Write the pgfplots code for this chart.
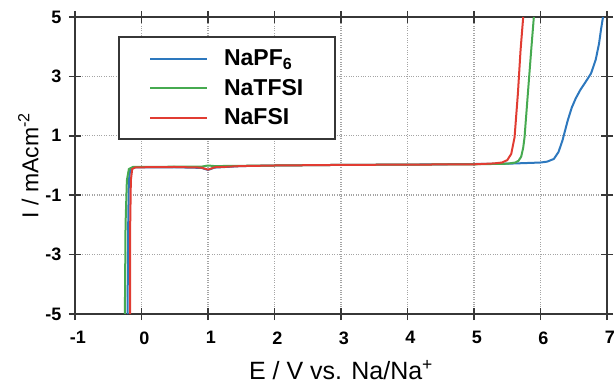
\documentclass[border=0pt]{standalone}
\usepackage{fontspec}
\setmainfont{Liberation Sans}
\usepackage{pgfplots}
\pgfplotsset{compat=1.18}
\definecolor{cblue}{RGB}{45,120,190}
\definecolor{cgreen}{RGB}{70,170,80}
\definecolor{cred}{RGB}{225,60,50}
\definecolor{axisc}{RGB}{55,55,55}
\definecolor{gridc}{RGB}{165,165,165}
\begin{document}
\begin{tikzpicture}
\begin{axis}[
  scale only axis,
  width=532pt, height=297pt,
  xmin=-1, xmax=7, ymin=-5, ymax=5,
  xtick={-1,0,...,7}, ytick={-5,-3,-1,1,3,5},
  axis line style={line width=2pt, color=axisc},
  tick align=center,
  major tick length=12pt,
  tick style={line width=1.5pt, color=axisc},
  xmajorgrids, ymajorgrids,
  major grid style={dotted, line width=1.4pt, color=gridc},
  /pgf/number format/assume math mode=true,
  ticklabel style={font=\fontsize{18}{20}\selectfont\bfseries},
  xticklabel style={yshift=-8pt, xshift=3pt},
  yticklabel style={xshift=-4pt},
  xlabel={E / V vs. Na/Na\textsuperscript{+}},
  ylabel={I / mAcm\textsuperscript{-2}},
  label style={font=\fontsize{23}{26}\selectfont},
  xlabel style={yshift=-9pt, font=\fontsize{25}{28}\selectfont},
  ylabel style={yshift=0pt},
  legend style={at={(0.081,0.936)}, anchor=north west, draw=axisc, line width=2pt,
    font=\fontsize{23}{27}\selectfont\bfseries, inner xsep=30pt, inner ysep=11pt, row sep=8pt,
    cells={anchor=west},
    /tikz/every odd column/.append style={column sep=14pt}},
  legend image code/.code={\draw[#1, line width=2pt] (0pt,0pt) -- (57pt,0pt);},
  every axis plot/.append style={line width=2pt},
]
\addplot[cblue] coordinates {(-0.21,-5) (-0.2,-2) (-0.19,-0.5) (-0.17,-0.15) (-0.13,-0.07) (0,-0.06) (0.5,-0.06) (0.9,-0.08) (1.0,-0.15) (1.1,-0.07) (1.5,-0.02) (2,0.0) (3,0.02) (4,0.03) (5,0.05) (5.5,0.06) (6.0,0.1) (6.1,0.13) (6.2,0.22) (6.27,0.45) (6.33,0.84) (6.41,1.52) (6.47,1.95) (6.53,2.26) (6.6,2.55) (6.68,2.82) (6.76,3.1) (6.83,3.56) (6.88,4.1) (6.91,4.58) (6.94,5.0)};
\addlegendentry{NaPF\textsubscript{6}}
\addplot[cgreen] coordinates {(-0.25,-5) (-0.24,-2) (-0.22,-0.5) (-0.19,-0.12) (-0.13,-0.05) (0,-0.05) (0.5,-0.04) (0.9,-0.04) (1.0,0.0) (1.1,-0.02) (1.5,-0.01) (2,0.0) (3,0.02) (4,0.03) (5,0.04) (5.5,0.06) (5.62,0.1) (5.67,0.16) (5.71,0.3) (5.74,0.6) (5.76,0.95) (5.81,2.42) (5.86,3.88) (5.9,5.0)};
\addlegendentry{NaTFSI}
\addplot[cred] coordinates {(-0.17,-5) (-0.17,-2) (-0.16,-0.5) (-0.14,-0.12) (-0.09,-0.06) (0,-0.06) (0.5,-0.05) (0.9,-0.07) (1.0,-0.14) (1.1,-0.06) (1.5,-0.02) (2,0.0) (3,0.02) (4,0.03) (5,0.04) (5.3,0.07) (5.42,0.1) (5.5,0.18) (5.56,0.39) (5.61,0.95) (5.66,2.42) (5.70,3.88) (5.74,5.0)};
\addlegendentry{NaFSI}
\end{axis}
\pgfresetboundingbox
\path (current axis.south west) ++(-75pt,-71pt) coordinate (bbA);
\path (current axis.north east) ++(8pt,17pt) coordinate (bbB);
\useasboundingbox (bbA) rectangle (bbB);
\end{tikzpicture}
\end{document}
